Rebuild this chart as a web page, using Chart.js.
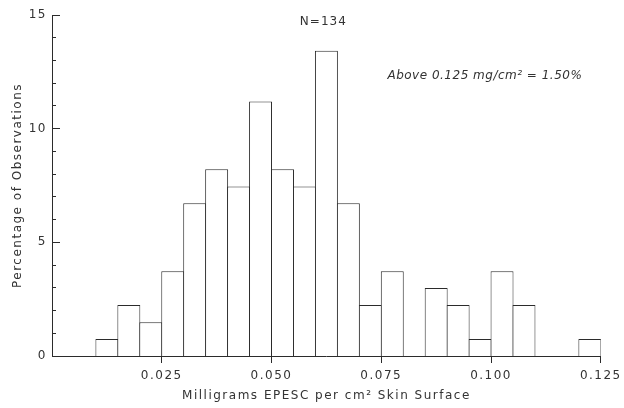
<!DOCTYPE html>
<html>
<head>
<meta charset="utf-8">
<script src="https://cdn.jsdelivr.net/npm/chart.js@4.4.1/dist/chart.umd.min.js"></script>
<style>
  html, body { margin: 0; background: #fff; }
</style>
</head>
<body>
<canvas id="histChart" width="624" height="408"></canvas>
<script>
// bin centres (mg EPESC per cm2), bins are 0.005 wide
const binCenters = [
  0.0125, 0.0175, 0.0225, 0.0275, 0.0325, 0.0375, 0.0425, 0.0475,
  0.0525, 0.0575, 0.0625, 0.0675, 0.0725, 0.0775, 0.0825, 0.0875,
  0.0925, 0.0975, 0.1025, 0.1075, 0.1125, 0.1175, 0.1225,
];
// percentage of observations in each bin
const percentObs = [
  0.75, 2.24, 1.49, 3.73, 6.72, 8.21, 7.46, 11.19,
  8.21, 7.46, 13.43, 6.72, 2.24, 3.73, 0, 2.99,
  2.24, 0.75, 3.73, 2.24, 0, 0, 0.75,
];
const xTickValues = [0.025, 0.050, 0.075, 0.100, 0.125];
const yTickLabels = [0, 5, 10, 15];

const sampleNote = "N=134";
const aboveNote = "Above 0.125 mg/cm² = 1.50%";

const INK = "#2b2b2b";
const TEXT = "#333";
const FONT = "'DejaVu Sans', sans-serif";

// hand-lettered look: spread the letters a little
const spacedText = {
  id: "spacedText",
  beforeDraw(chart) {
    chart.ctx.letterSpacing = "1.5px";
  },
};

const crisp = px => Math.round(px - 0.5) + 0.5;

// y ticks point into the plot (long at labels, short every unit), x ticks hang below
const axisTicks = {
  id: "axisTicks",
  afterDraw(chart) {
    const { ctx, scales: { x, y } } = chart;
    ctx.save();
    ctx.strokeStyle = INK;
    ctx.lineWidth = 1;
    ctx.beginPath();
    for (let v = y.min; v <= y.max; v++) {
      const py = crisp(y.getPixelForValue(v));
      const len = yTickLabels.includes(v) ? 8 : 4;
      ctx.moveTo(x.left, py);
      ctx.lineTo(x.left + len, py);
    }
    xTickValues.forEach(v => {
      const px = crisp(x.getPixelForValue(v));
      ctx.moveTo(px, y.bottom);
      ctx.lineTo(px, y.bottom + 7);
    });
    ctx.stroke();

    ctx.fillStyle = TEXT;
    ctx.textBaseline = "middle";
    ctx.textAlign = "center";
    ctx.letterSpacing = "1px";
    ctx.font = `12px ${FONT}`;
    ctx.fillText(sampleNote, x.getPixelForValue(0.0618), y.getPixelForValue(14.69));
    ctx.textAlign = "left";
    ctx.letterSpacing = "0.5px";
    ctx.font = `italic 12px ${FONT}`;
    ctx.fillText(aboveNote, x.getPixelForValue(0.0764), y.getPixelForValue(12.32));
    ctx.restore();
  },
};

new Chart(document.getElementById("histChart"), {
  type: "bar",
  data: {
    datasets: [{
      data: binCenters.map((c, i) => ({ x: c, y: percentObs[i] })),
      backgroundColor: "#fff",
      borderColor: INK,
      borderWidth: 1,
      borderSkipped: "bottom",
      // one pixel wider than the bin so neighbouring outlines share a line
      barPercentage: 23 / 22,
      categoryPercentage: 1,
    }],
  },
  options: {
    responsive: false,
    animation: false,
    layout: { padding: { top: 15, right: 23, left: 0, bottom: 0 } },
    plugins: { legend: { display: false }, tooltip: { enabled: false } },
    scales: {
      x: {
        type: "linear",
        offset: false,
        min: 0,
        max: 0.125,
        afterBuildTicks: scale => { scale.ticks = xTickValues.map(v => ({ value: v })); },
        afterFit: scale => { scale.height = 52; },
        ticks: {
          color: TEXT,
          font: { family: FONT, size: 12 },
          padding: 6,
          maxRotation: 0,
          callback: v => v.toFixed(3),
        },
        // tick marks are drawn by axisTicks; keep the space they take
        grid: { drawOnChartArea: false, offset: false, tickLength: 7, color: "transparent" },
        border: { color: INK, width: 1 },
        title: {
          display: true,
          text: "Milligrams EPESC per cm² Skin Surface",
          color: TEXT,
          font: { family: FONT, size: 12 },
          padding: { top: 0, bottom: 5 },
        },
      },
      y: {
        min: 0,
        max: 15,
        afterBuildTicks: scale => { scale.ticks = yTickLabels.map(v => ({ value: v })); },
        afterFit: scale => { scale.width = 52; },
        ticks: {
          color: TEXT,
          font: { family: FONT, size: 12 },
          padding: 5,
        },
        grid: { display: false, drawTicks: false },
        border: { color: INK, width: 1 },
        title: {
          display: true,
          text: "Percentage of Observations",
          color: TEXT,
          font: { family: FONT, size: 12 },
          padding: { top: 11, bottom: 0 },
        },
      },
    },
  },
  plugins: [spacedText, axisTicks],
});
</script>
</body>
</html>
